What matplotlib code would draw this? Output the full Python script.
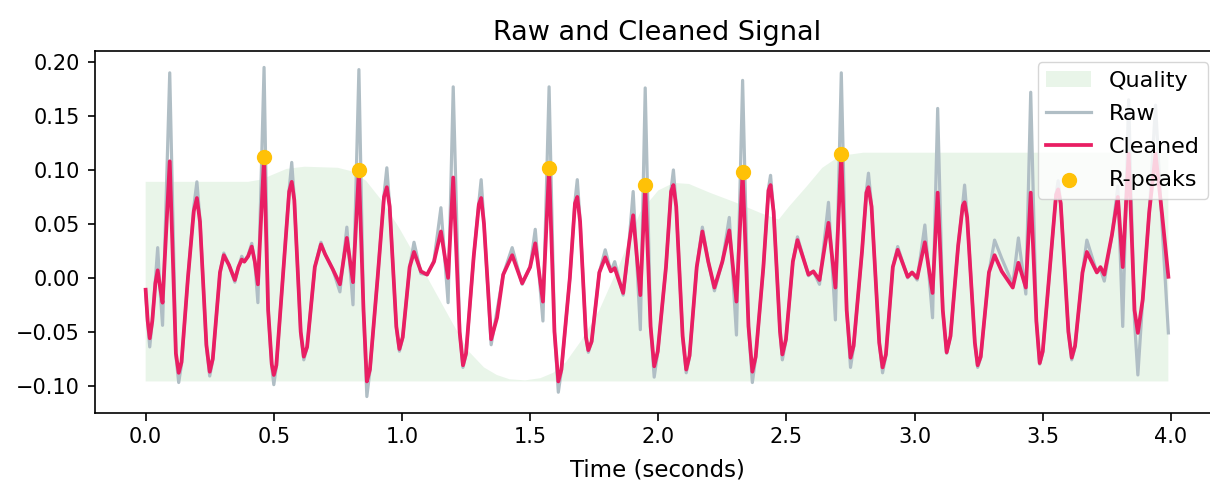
import matplotlib
matplotlib.use("Agg")
import matplotlib.pyplot as plt
import numpy as np

# Samples (seconds, signal units)
time_s = [
    0.000, 0.008, 0.016, 0.026, 0.038, 0.047, 0.056, 0.066, 0.094, 0.118,
    0.129, 0.140, 0.165, 0.188, 0.200, 0.212, 0.237, 0.250, 0.262, 0.290,
    0.305, 0.325, 0.348, 0.362, 0.375, 0.385, 0.400, 0.414, 0.426, 0.438,
    0.462, 0.478, 0.492, 0.500, 0.510, 0.535, 0.560, 0.570, 0.580, 0.605,
    0.617, 0.630, 0.660, 0.684, 0.700, 0.730, 0.758, 0.785, 0.809, 0.832,
    0.850, 0.863, 0.875, 0.905, 0.930, 0.941, 0.952, 0.978, 0.990, 1.003,
    1.030, 1.047, 1.074, 1.098, 1.125, 1.152, 1.180, 1.200, 1.225, 1.238,
    1.250, 1.280, 1.300, 1.309, 1.320, 1.348, 1.371, 1.395, 1.430, 1.469,
    1.500, 1.520, 1.550, 1.574, 1.595, 1.610, 1.622, 1.655, 1.675, 1.684,
    1.695, 1.718, 1.727, 1.740, 1.770, 1.793, 1.815, 1.830, 1.863, 1.885,
    1.902, 1.930, 1.949, 1.970, 1.984, 1.998, 2.030, 2.050, 2.059, 2.070,
    2.095, 2.109, 2.122, 2.150, 2.172, 2.195, 2.219, 2.250, 2.277, 2.305,
    2.329, 2.352, 2.367, 2.380, 2.410, 2.430, 2.438, 2.450, 2.475, 2.484,
    2.498, 2.525, 2.543, 2.586, 2.605, 2.629, 2.664, 2.691, 2.714, 2.735,
    2.750, 2.762, 2.795, 2.812, 2.820, 2.832, 2.862, 2.875, 2.888, 2.915,
    2.934, 2.973, 2.990, 3.010, 3.040, 3.070, 3.090, 3.110, 3.125, 3.140,
    3.170, 3.188, 3.195, 3.205, 3.235, 3.246, 3.258, 3.290, 3.312, 3.340,
    3.383, 3.405, 3.434, 3.453, 3.475, 3.488, 3.500, 3.530, 3.552, 3.560,
    3.570, 3.600, 3.613, 3.626, 3.655, 3.672, 3.711, 3.725, 3.740, 3.770,
    3.793, 3.812, 3.835, 3.858, 3.871, 3.890, 3.915, 3.940, 3.965, 3.990,
]

ecg_clean = [
    -0.011, -0.040, -0.056, -0.040, -0.005, 0.007, -0.008, -0.023, 0.108, -0.070,
    -0.088, -0.078, 0.000, 0.062, 0.074, 0.052, -0.062, -0.087, -0.075, 0.005,
    0.021, 0.012, -0.002, 0.010, 0.017, 0.015, 0.020, 0.029, 0.015, -0.006,
    0.112, -0.030, -0.080, -0.090, -0.081, 0.000, 0.080, 0.089, 0.072, -0.050,
    -0.073, -0.064, 0.010, 0.031, 0.022, 0.008, -0.006, 0.037, -0.004, 0.100,
    -0.030, -0.096, -0.085, 0.000, 0.075, 0.084, 0.066, -0.045, -0.066, -0.055,
    0.010, 0.024, 0.006, 0.003, 0.015, 0.043, 0.000, 0.093, -0.050, -0.081,
    -0.070, 0.020, 0.068, 0.074, 0.050, -0.057, -0.037, 0.003, 0.021, -0.005,
    0.010, 0.032, -0.022, 0.102, -0.050, -0.096, -0.085, 0.000, 0.069, 0.075,
    0.052, -0.055, -0.067, -0.059, 0.005, 0.019, 0.006, 0.009, -0.014, 0.030,
    0.058, -0.016, 0.086, -0.045, -0.082, -0.068, 0.010, 0.080, 0.086, 0.066,
    -0.054, -0.085, -0.072, 0.010, 0.043, 0.015, -0.009, 0.015, 0.044, -0.022,
    0.098, -0.045, -0.087, -0.073, 0.010, 0.081, 0.086, 0.061, -0.050, -0.071,
    -0.057, 0.015, 0.035, 0.003, 0.006, -0.002, 0.051, -0.009, 0.115, -0.030,
    -0.074, -0.063, 0.025, 0.079, 0.084, 0.066, -0.060, -0.083, -0.071, 0.010,
    0.026, 0.001, 0.005, 0.000, 0.033, -0.014, 0.079, -0.030, -0.069, -0.054,
    0.030, 0.067, 0.070, 0.056, -0.060, -0.081, -0.073, 0.005, 0.021, 0.006,
    -0.009, 0.014, -0.009, 0.079, -0.040, -0.079, -0.068, 0.015, 0.077, 0.082,
    0.069, -0.050, -0.074, -0.063, 0.005, 0.024, 0.005, 0.010, 0.003, 0.040,
    0.075, 0.010, 0.115, -0.030, -0.051, -0.020, 0.060, 0.115, 0.060, 0.001,
]

ecg_raw = [
    -0.013, -0.042, -0.064, -0.040, -0.002, 0.028, -0.010, -0.044, 0.190, -0.072,
    -0.097, -0.080, 0.000, 0.066, 0.089, 0.054, -0.064, -0.091, -0.076, 0.005,
    0.023, 0.012, -0.004, 0.010, 0.020, 0.015, 0.021, 0.032, 0.014, -0.023,
    0.195, -0.030, -0.082, -0.099, -0.082, 0.000, 0.082, 0.107, 0.073, -0.051,
    -0.076, -0.064, 0.010, 0.033, 0.022, 0.008, -0.013, 0.047, -0.025, 0.193,
    -0.030, -0.110, -0.086, 0.000, 0.077, 0.102, 0.067, -0.046, -0.068, -0.055,
    0.010, 0.033, 0.004, 0.003, 0.016, 0.065, -0.023, 0.177, -0.050, -0.083,
    -0.071, 0.020, 0.070, 0.091, 0.051, -0.062, -0.030, 0.003, 0.028, -0.006,
    0.010, 0.045, -0.040, 0.177, -0.050, -0.106, -0.086, 0.000, 0.071, 0.091,
    0.053, -0.055, -0.069, -0.059, 0.005, 0.026, 0.006, 0.015, -0.016, 0.030,
    0.080, -0.048, 0.176, -0.045, -0.092, -0.069, 0.010, 0.082, 0.100, 0.067,
    -0.054, -0.088, -0.073, 0.010, 0.047, 0.015, -0.012, 0.015, 0.056, -0.053,
    0.183, -0.045, -0.097, -0.074, 0.010, 0.083, 0.095, 0.062, -0.050, -0.076,
    -0.058, 0.015, 0.038, 0.002, 0.006, -0.006, 0.070, -0.039, 0.190, -0.030,
    -0.083, -0.064, 0.025, 0.081, 0.097, 0.067, -0.060, -0.088, -0.072, 0.010,
    0.029, 0.000, 0.005, -0.002, 0.049, -0.037, 0.157, -0.030, -0.070, -0.054,
    0.030, 0.069, 0.086, 0.057, -0.060, -0.083, -0.074, 0.005, 0.035, 0.018,
    -0.006, 0.037, -0.015, 0.172, -0.040, -0.080, -0.069, 0.015, 0.078, 0.090,
    0.070, -0.050, -0.076, -0.064, 0.005, 0.035, 0.005, 0.008, -0.003, 0.040,
    0.085, -0.045, 0.165, -0.040, -0.090, -0.020, 0.060, 0.160, 0.050, -0.051,
]

# R-peaks (only these are marked in the reference)
rpeak_t = [0.462, 0.832, 1.574, 1.949, 2.329, 2.714]

# Upper edge of the quality band
quality_t = [0.00, 0.40, 0.45, 0.50, 0.55, 0.62, 0.75, 0.80, 0.86, 0.92,
             0.99, 1.10, 1.20, 1.26, 1.32, 1.37, 1.42, 1.48, 1.54, 1.59,
             1.64, 1.70, 1.77, 1.85, 1.93, 2.00, 2.06, 2.12, 2.20, 2.30,
             2.40, 2.47, 2.51, 2.58, 2.64, 2.69, 2.74, 2.80, 3.99]
quality_v = [0.089, 0.089, 0.091, 0.096, 0.101, 0.103, 0.102, 0.099, 0.090, 0.072,
             0.046, 0.000, -0.043, -0.068, -0.083, -0.090, -0.094, -0.095, -0.093, -0.088,
             -0.078, -0.058, -0.030, 0.013, 0.061, 0.081, 0.088, 0.087, 0.079, 0.070,
             0.060, 0.054, 0.066, 0.085, 0.102, 0.110, 0.114, 0.116, 0.116]

t = np.array(time_s)
clean = np.array(ecg_clean)
raw = np.array(ecg_raw)
peaks = np.searchsorted(t, rpeak_t)

plt.rcParams['font.family'] = ['DejaVu Sans']
plt.rcParams['font.size'] = 15

fig = plt.figure(figsize=(12.1, 4.86), dpi=100)
ax = fig.add_axes([94.5 / 1210, 73 / 486, 1125 / 1210, 362 / 486])

ax.fill_between(quality_t, clean.min(), quality_v, alpha=0.12, zorder=0,
                facecolor="#4CAF50", interpolate=True, label="Quality")
ax.plot(t, raw, color="#B0BEC5", label="Raw", zorder=1, linewidth=2.3)
ax.plot(t, clean, color="#E91E63", label="Cleaned", zorder=1, linewidth=2.7)
ax.scatter(t[peaks], clean[peaks], color="#FFC107", label="R-peaks", zorder=2, s=100)

ax.set_title("Raw and Cleaned Signal", fontsize=19.5, pad=8)
ax.set_xlabel("Time (seconds)", fontsize=16.5, labelpad=8)
ax.tick_params(labelsize=15, length=5.4, width=1.2, pad=5)
for sp in ax.spines.values():
    sp.set_linewidth(1.2)
ax.legend(loc="upper right", fontsize=16, labelspacing=0.58)

fig.savefig("out.png", dpi=100)
